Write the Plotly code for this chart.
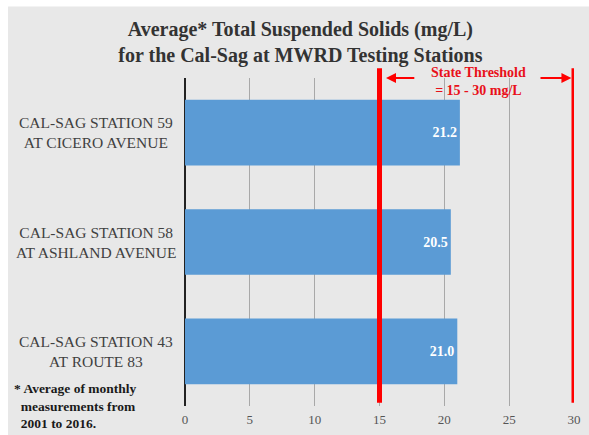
import plotly.graph_objects as go

stations = ["CAL-SAG STATION 43<br>AT ROUTE 83",
            "CAL-SAG STATION 58<br>AT ASHLAND AVENUE",
            "CAL-SAG STATION 59<br>AT CICERO AVENUE"]
values = [21.0, 20.5, 21.2]
value_labels = ["<b>21.0</b>", "<b>20.5</b>", "<b>21.2</b>"]
threshold_low = 15
threshold_high = 30
x_ticks = [0, 5, 10, 15, 20, 25, 30]

serif = "Liberation Serif"
ypos = list(range(len(stations)))

fig = go.Figure()
fig.add_trace(go.Bar(
    x=values, y=ypos, orientation="h", width=0.6,
    marker=dict(color="#5b9bd5", line=dict(width=0)),
    text=value_labels, textposition="inside", insidetextanchor="end",
    textfont=dict(family=serif, size=14, color="white"),
    hoverinfo="skip",
))

# gray slide background with a thin white frame at top/left
fig.add_shape(type="rect", xref="paper", yref="paper", x0=-0.455, x1=1.2,
              y0=-0.3, y1=1.218, layer="below", line=dict(width=0),
              fillcolor="#e8e8e8")

# threshold lines
for t in (threshold_low, threshold_high):
    fig.add_shape(type="line", xref="x", yref="paper", x0=t, x1=t,
                  y0=0.01, y1=1.03, line=dict(color="#ff0000", width=5))

# category labels (centered)
for yy, s in zip(ypos, stations):
    fig.add_annotation(x=-0.23, xref="paper", y=yy, yref="y", text=s,
                       showarrow=False, xanchor="center", align="center",
                       font=dict(family=serif, size=15.5, color="#404040"))

# threshold label and arrows
fig.add_annotation(x=22.6, xref="x", y=0.99, yref="paper",
                   text="<b>State Threshold</b><br><b>&#61; 15 - 30 mg/L</b>",
                   showarrow=False, align="center", yanchor="middle",
                   font=dict(family=serif, size=14, color="#e8101a"))
fig.add_annotation(x=15.5, xref="x", y=1.0, yref="paper", text="",
                   showarrow=True, axref="x", ax=17.8, ayref="pixel", ay=0,
                   arrowhead=2, arrowsize=1, arrowwidth=2, arrowcolor="#ff0000")
fig.add_annotation(x=29.8, xref="x", y=1.0, yref="paper", text="",
                   showarrow=True, axref="x", ax=27.3, ayref="pixel", ay=0,
                   arrowhead=2, arrowsize=1, arrowwidth=2, arrowcolor="#ff0000")

# footnote
fig.add_annotation(x=-0.445, xref="paper", y=0.0, yref="paper",
                   text="<b>* Average of monthly<br>  measurements from<br>  2001 to 2016.</b>",
                   showarrow=False, xanchor="left", yanchor="middle", align="left",
                   font=dict(family=serif, size=13.5, color="#1a1a1a"))

fig.update_layout(
    width=589, height=435,
    margin=dict(l=185, r=8, t=78, b=27),
    paper_bgcolor="#ffffff", plot_bgcolor="rgba(0,0,0,0)",
    showlegend=False,
    title=dict(text="<b>Average* Total Suspended Solids (mg/L)<br>for the Cal-Sag at MWRD Testing Stations</b>",
               x=0.51, xanchor="center", y=0.917, yref="container", yanchor="middle",
               font=dict(family=serif, size=20, color="#333333")),
    xaxis=dict(range=[0, 30], tickvals=x_ticks, showgrid=True, gridcolor="#a8a8a8",
               gridwidth=1, zeroline=True, zerolinecolor="#222222", zerolinewidth=1.5,
               showline=False, ticks="", ticklabelstandoff=4,
               tickfont=dict(family=serif, size=13, color="#555555"),
               fixedrange=True),
    yaxis=dict(range=[-0.5, 2.5], showticklabels=False, showgrid=False, zeroline=False,
               ticks="", fixedrange=True),
)

fig.write_html("out.html", config={"displayModeBar": False},
               post_script="document.body.style.margin='0';document.body.style.overflow='hidden';")
